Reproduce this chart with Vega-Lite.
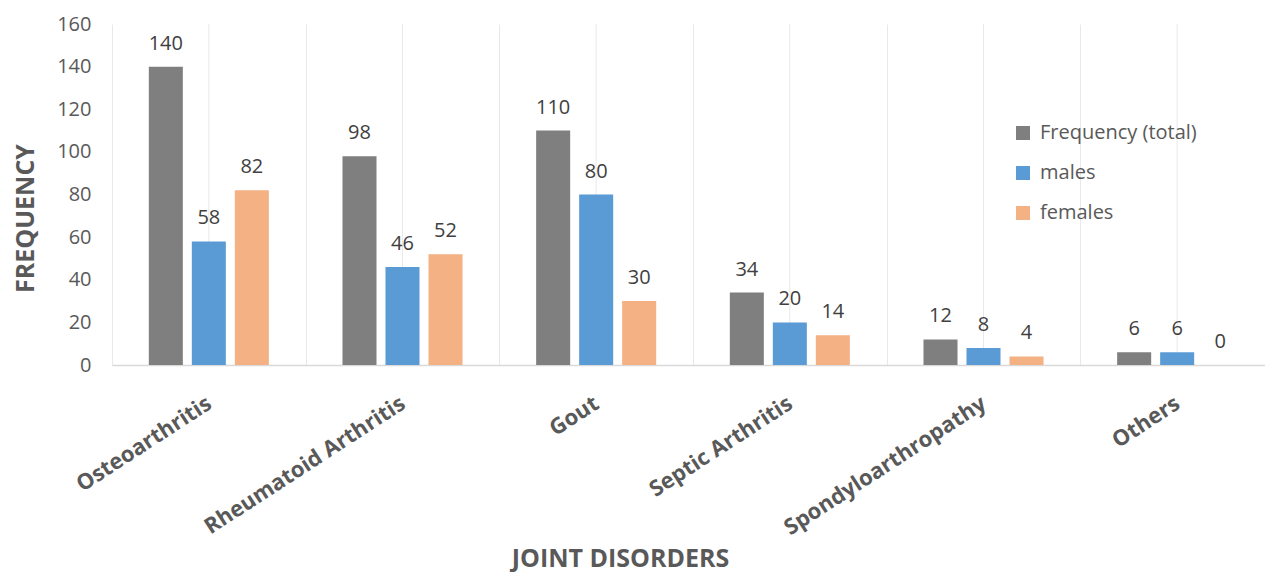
{
  "$schema": "https://vega.github.io/schema/vega-lite/v6.json",
  "autosize": {"type": "none"},
  "padding": {"left": 112, "top": 24, "right": 0, "bottom": 207},
  "width": 1162,
  "height": 341,
  "background": "white",
  "config": {"view": {"stroke": null}, "font": "Open Sans"},
  "datasets": {
    "cats": [
      {"disorder": "Osteoarthritis"},
      {"disorder": "Rheumatoid Arthritis"},
      {"disorder": "Gout"},
      {"disorder": "Septic Arthritis"},
      {"disorder": "Spondyloarthropathy"},
      {"disorder": "Others"}
    ],
    "freq": [
      {"disorder": "Osteoarthritis", "series": "Frequency (total)", "value": 140},
      {"disorder": "Osteoarthritis", "series": "males", "value": 58},
      {"disorder": "Osteoarthritis", "series": "females", "value": 82},
      {"disorder": "Rheumatoid Arthritis", "series": "Frequency (total)", "value": 98},
      {"disorder": "Rheumatoid Arthritis", "series": "males", "value": 46},
      {"disorder": "Rheumatoid Arthritis", "series": "females", "value": 52},
      {"disorder": "Gout", "series": "Frequency (total)", "value": 110},
      {"disorder": "Gout", "series": "males", "value": 80},
      {"disorder": "Gout", "series": "females", "value": 30},
      {"disorder": "Septic Arthritis", "series": "Frequency (total)", "value": 34},
      {"disorder": "Septic Arthritis", "series": "males", "value": 20},
      {"disorder": "Septic Arthritis", "series": "females", "value": 14},
      {"disorder": "Spondyloarthropathy", "series": "Frequency (total)", "value": 12},
      {"disorder": "Spondyloarthropathy", "series": "males", "value": 8},
      {"disorder": "Spondyloarthropathy", "series": "females", "value": 4},
      {"disorder": "Others", "series": "Frequency (total)", "value": 6},
      {"disorder": "Others", "series": "males", "value": 6},
      {"disorder": "Others", "series": "females", "value": 0}
    ]
  },
  "encoding": {
    "x": {
      "field": "disorder",
      "type": "nominal",
      "sort": ["Osteoarthritis", "Rheumatoid Arthritis", "Gout", "Septic Arthritis", "Spondyloarthropathy", "Others"],
      "scale": {"paddingInner": 0, "paddingOuter": 0},
      "axis": {
        "title": "JOINT DISORDERS",
        "titleFontSize": 25,
        "titleFontWeight": "bold",
        "titleColor": "#595959",
        "titleX": 508,
        "titleY": 193,
        "titleBaseline": "middle",
        "titleAnchor": "middle",
        "labelAngle": -33,
        "labelAlign": "right",
        "labelBaseline": "middle",
        "labelFontSize": 22,
        "labelFontWeight": "bold",
        "labelColor": "#595959",
        "labelPadding": 36,
        "labelLimit": 400,
        "labelOverlap": false,
        "ticks": false,
        "grid": true,
        "tickBand": "extent",
        "gridColor": "#e8e8e8",
        "gridWidth": 1,
        "domainColor": "#d9d9d9",
        "domainWidth": 1.5
      }
    }
  },
  "layer": [
    {
      "data": {"name": "cats"},
      "mark": {"type": "rule", "color": "#e8e8e8", "strokeWidth": 1},
      "encoding": {}
    },
    {
      "data": {"name": "freq"},
      "mark": {"type": "bar"},
      "encoding": {
        "xOffset": {
          "field": "series",
          "type": "nominal",
          "sort": ["Frequency (total)", "males", "females"],
          "scale": {"paddingInner": 0.209, "paddingOuter": 0.856}
        },
        "y": {
          "field": "value",
          "type": "quantitative",
          "scale": {"domain": [0, 160], "nice": false},
          "axis": {
            "title": "FREQUENCY",
            "titleFontSize": 25,
            "titleFontWeight": "bold",
            "titleColor": "#595959",
            "titleX": -87,
            "titleY": 194,
            "titleBaseline": "middle",
            "values": [0, 20, 40, 60, 80, 100, 120, 140, 160],
            "labelFontSize": 20,
            "labelColor": "#595959",
            "labelPadding": 21,
            "domain": false,
            "ticks": false,
            "grid": false
          }
        },
        "color": {
          "field": "series",
          "type": "nominal",
          "scale": {
            "domain": ["Frequency (total)", "males", "females"],
            "range": ["#7f7f7f", "#5b9bd5", "#f4b183"]
          },
          "legend": {
            "title": null,
            "orient": "none",
            "legendX": 901,
            "legendY": 99,
            "padding": 0,
            "symbolType": "square",
            "symbolSize": 196,
            "symbolStrokeWidth": 0,
            "labelFontSize": 20,
            "labelColor": "#595959",
            "labelOffset": 7,
            "rowPadding": 20
          }
        }
      }
    },
    {
      "data": {"name": "freq"},
      "mark": {"type": "text", "fontSize": 20, "color": "#404040", "baseline": "alphabetic", "dy": -17},
      "encoding": {
        "xOffset": {
          "field": "series",
          "type": "nominal",
          "sort": ["Frequency (total)", "males", "females"],
          "scale": {"paddingInner": 0.209, "paddingOuter": 0.856}
        },
        "y": {"field": "value", "type": "quantitative"},
        "text": {"field": "value", "type": "quantitative"}
      }
    }
  ]
}
